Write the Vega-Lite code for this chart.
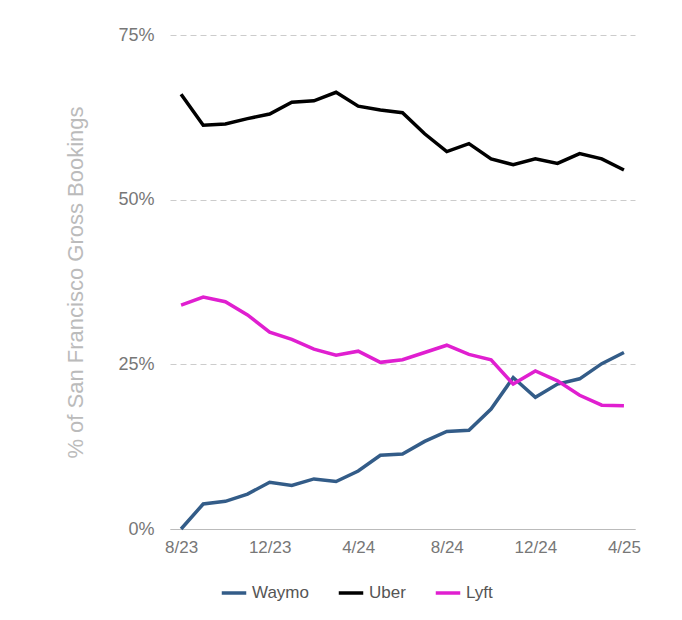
{
  "$schema": "https://vega.github.io/schema/vega-lite/v6.json",
  "width": 465,
  "height": 494,
  "padding": {"top": 26, "left": 64, "right": 40, "bottom": 10},
  "background": "white",
  "data": {"values": [
    {"month":"8/23","Waymo":0,"Uber":66,"Lyft":34},
    {"month":"9/23","Waymo":3.8,"Uber":61.3,"Lyft":35.2},
    {"month":"10/23","Waymo":4.2,"Uber":61.5,"Lyft":34.5},
    {"month":"11/23","Waymo":5.3,"Uber":62.3,"Lyft":32.5},
    {"month":"12/23","Waymo":7.1,"Uber":63,"Lyft":29.9},
    {"month":"1/24","Waymo":6.6,"Uber":64.8,"Lyft":28.8},
    {"month":"2/24","Waymo":7.6,"Uber":65,"Lyft":27.3},
    {"month":"3/24","Waymo":7.2,"Uber":66.3,"Lyft":26.4},
    {"month":"4/24","Waymo":8.8,"Uber":64.2,"Lyft":27},
    {"month":"5/24","Waymo":11.2,"Uber":63.6,"Lyft":25.3},
    {"month":"6/24","Waymo":11.4,"Uber":63.2,"Lyft":25.7},
    {"month":"7/24","Waymo":13.3,"Uber":60,"Lyft":26.8},
    {"month":"8/24","Waymo":14.8,"Uber":57.3,"Lyft":27.9},
    {"month":"9/24","Waymo":15,"Uber":58.5,"Lyft":26.5},
    {"month":"10/24","Waymo":18.2,"Uber":56.2,"Lyft":25.7},
    {"month":"11/24","Waymo":23,"Uber":55.3,"Lyft":22},
    {"month":"12/24","Waymo":20,"Uber":56.2,"Lyft":24},
    {"month":"1/25","Waymo":22,"Uber":55.5,"Lyft":22.5},
    {"month":"2/25","Waymo":22.8,"Uber":57,"Lyft":20.3},
    {"month":"3/25","Waymo":25.1,"Uber":56.2,"Lyft":18.8},
    {"month":"4/25","Waymo":26.8,"Uber":54.5,"Lyft":18.7}
  ]},
  "transform": [
    {"fold": ["Waymo", "Uber", "Lyft"], "as": ["company", "share"]},
    {"calculate": "datum.share / 100", "as": "share"}
  ],
  "mark": {"type": "line", "strokeWidth": 3.5},
  "encoding": {
    "x": {
      "field": "month", "type": "ordinal", "sort": null,
      "scale": {"type": "point", "padding": 0.5},
      "axis": {
        "title": null, "values": ["8/23","12/23","4/24","8/24","12/24","4/25"],
        "labelAngle": 0, "labelFontSize": 17, "labelColor": "#777", "ticks": false,
        "domainColor": "#bbb", "labelPadding": 10
      }
    },
    "y": {
      "field": "share", "type": "quantitative",
      "scale": {"domain": [0, 0.75]},
      "axis": {
        "title": "% of San Francisco Gross Bookings", "titleFontSize": 22, "titleColor": "#bbb",
        "titleFontWeight": "normal", "titlePadding": 30,
        "format": ".0%", "values": [0, 0.25, 0.5, 0.75], "labelFontSize": 18, "labelColor": "#777",
        "ticks": false, "domain": false, "labelPadding": 16,
        "grid": true, "gridDash": [6, 4], "gridColor": "#ccc"
      }
    },
    "color": {
      "field": "company", "type": "nominal",
      "scale": {"domain": ["Waymo", "Uber", "Lyft"], "range": ["#335c88", "#000000", "#e01fd0"]},
      "legend": {
        "orient": "none", "legendX": 50, "legendY": 544, "title": null, "direction": "horizontal", "labelFontSize": 17,
        "labelColor": "#555", "symbolType": "stroke", "symbolStrokeWidth": 3.5, "symbolSize": 600,
        "columnPadding": 22
      }
    }
  },
  "config": {"font": "Liberation Sans", "view": {"stroke": null}}
}
